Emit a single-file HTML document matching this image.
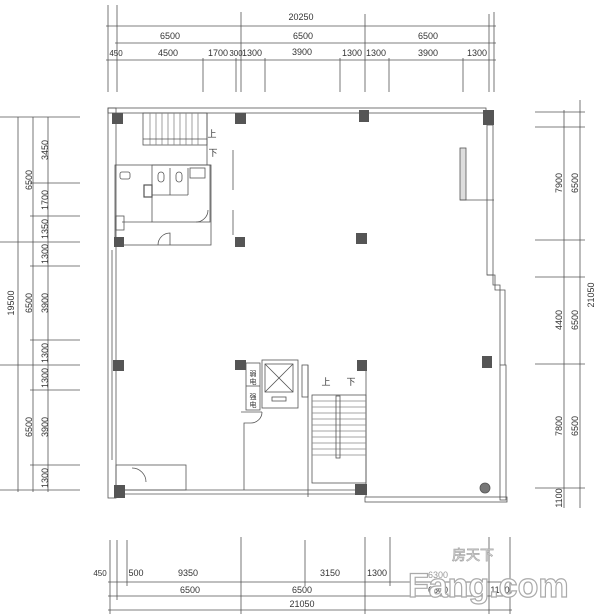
<!DOCTYPE html>
<html><head><meta charset="utf-8"><style>
html,body{margin:0;padding:0;background:#fff;}
svg{display:block;}
text{font-family:"Liberation Sans","Noto Sans CJK SC",sans-serif;fill:#333;}
</style></head><body>
<svg width="600" height="614" viewBox="0 0 600 614" xmlns="http://www.w3.org/2000/svg">
<g stroke="#555" stroke-width="0.8" fill="none">
<line x1="108" y1="5" x2="108" y2="92"/><line x1="117" y1="5" x2="117" y2="92"/>
<line x1="241" y1="12" x2="241" y2="92"/><line x1="365" y1="14" x2="365" y2="92"/>
<line x1="489" y1="14" x2="489" y2="92"/><line x1="494" y1="12" x2="494" y2="92"/>
<line x1="203" y1="58" x2="203" y2="92"/><line x1="236" y1="58" x2="236" y2="92"/>
<line x1="265" y1="58" x2="265" y2="92"/><line x1="340" y1="58" x2="340" y2="92"/>
<line x1="389" y1="58" x2="389" y2="92"/><line x1="463" y1="58" x2="463" y2="92"/>
<line x1="106" y1="26" x2="496" y2="26"/>
<line x1="115" y1="43" x2="496" y2="43"/>
<line x1="106" y1="60" x2="496" y2="60"/>
<line x1="18" y1="117" x2="18" y2="492"/><line x1="33" y1="117" x2="33" y2="492"/><line x1="48" y1="117" x2="48" y2="492"/>
<line x1="0" y1="117" x2="80" y2="117"/><line x1="30" y1="183" x2="80" y2="183"/>
<line x1="30" y1="216" x2="80" y2="216"/><line x1="0" y1="242" x2="80" y2="242"/>
<line x1="30" y1="266" x2="80" y2="266"/><line x1="30" y1="340" x2="80" y2="340"/>
<line x1="0" y1="365" x2="80" y2="365"/><line x1="30" y1="390" x2="80" y2="390"/>
<line x1="30" y1="465" x2="80" y2="465"/><line x1="0" y1="490" x2="80" y2="490"/>
<line x1="564" y1="110" x2="564" y2="508"/><line x1="580" y1="100" x2="580" y2="508"/>
<line x1="535" y1="112" x2="585" y2="112"/><line x1="535" y1="127" x2="585" y2="127"/>
<line x1="535" y1="240" x2="585" y2="240"/><line x1="535" y1="277" x2="585" y2="277"/>
<line x1="535" y1="364" x2="585" y2="364"/><line x1="535" y1="488" x2="585" y2="488"/>
<line x1="110" y1="540" x2="110" y2="614"/><line x1="117" y1="540" x2="117" y2="600"/>
<line x1="127" y1="540" x2="127" y2="586"/><line x1="241" y1="537" x2="241" y2="614"/>
<line x1="305" y1="540" x2="305" y2="586"/><line x1="365" y1="537" x2="365" y2="614"/>
<line x1="390" y1="537" x2="390" y2="586"/><line x1="489" y1="537" x2="489" y2="614"/>
<line x1="510" y1="537" x2="510" y2="614"/>
<line x1="108" y1="582" x2="512" y2="582"/><line x1="108" y1="596" x2="512" y2="596"/>
<line x1="108" y1="610" x2="512" y2="610"/>
</g>
<g font-size="9" text-anchor="middle">
<text x="301" y="20">20250</text>
<text x="170" y="39">6500</text><text x="303" y="39">6500</text><text x="428" y="39">6500</text>
<text x="116" y="56" font-size="8">450</text><text x="168" y="56">4500</text><text x="218" y="56">1700</text>
<text x="236" y="56" font-size="8">300</text><text x="252" y="56">1300</text><text x="302" y="55">3900</text>
<text x="352" y="56">1300</text><text x="376" y="56">1300</text><text x="428" y="56">3900</text><text x="477" y="56">1300</text>
<text x="100" y="576" font-size="8">450</text><text x="136" y="576">500</text><text x="188" y="576">9350</text>
<text x="330" y="576">3150</text><text x="377" y="576">1300</text><text x="438" y="578" fill="#999" style="fill:#999">6300</text>
<text x="190" y="593">6500</text><text x="302" y="593">6500</text><text x="438" y="593">6500</text><text x="500" y="593">1100</text>
<text x="302" y="607">21050</text>
</g>
<g font-size="9" text-anchor="middle">
<text transform="translate(48,150) rotate(-90)">3450</text>
<text transform="translate(48,200) rotate(-90)">1700</text>
<text transform="translate(48,229) rotate(-90)">1350</text>
<text transform="translate(48,254) rotate(-90)">1300</text>
<text transform="translate(48,303) rotate(-90)">3900</text>
<text transform="translate(48,353) rotate(-90)">1300</text>
<text transform="translate(48,378) rotate(-90)">1300</text>
<text transform="translate(48,427) rotate(-90)">3900</text>
<text transform="translate(48,478) rotate(-90)">1300</text>
<text transform="translate(32,180) rotate(-90)">6500</text>
<text transform="translate(32,303) rotate(-90)">6500</text>
<text transform="translate(32,427) rotate(-90)">6500</text>
<text transform="translate(14,303) rotate(-90)">19500</text>
<text transform="translate(562,183) rotate(-90)">7900</text>
<text transform="translate(578,183) rotate(-90)">6500</text>
<text transform="translate(562,320) rotate(-90)">4400</text>
<text transform="translate(578,320) rotate(-90)">6500</text>
<text transform="translate(562,426) rotate(-90)">7800</text>
<text transform="translate(578,426) rotate(-90)">6500</text>
<text transform="translate(562,498) rotate(-90)">1100</text>
<text transform="translate(594,295) rotate(-90)">21050</text>
</g>
<g stroke="#555" stroke-width="0.8" fill="none">
<rect x="108" y="108" width="378" height="5"/>
<rect x="108" y="108" width="8" height="390"/>
<line x1="112" y1="250" x2="112" y2="460"/>
<rect x="487" y="125" width="6" height="150"/>
<rect x="460" y="148" width="6" height="52" fill="#ddd"/>
<line x1="460" y1="200" x2="494" y2="200"/>
<polyline points="487,275 495,275 495,290 505,290 505,365"/>
<polyline points="493,275 493,285 500,285 500,365"/>
<rect x="500" y="365" width="6" height="135"/>
<rect x="365" y="497" width="142" height="5"/>
<line x1="116" y1="490" x2="365" y2="490"/><line x1="116" y1="494" x2="365" y2="494"/>
<circle cx="485" cy="488" r="5" fill="#777"/>
<rect x="143" y="113" width="64" height="32"/>
<g stroke="#888"><line x1="150" y1="113" x2="150" y2="145"/><line x1="156" y1="113" x2="156" y2="145"/><line x1="162" y1="113" x2="162" y2="145"/><line x1="168" y1="113" x2="168" y2="145"/><line x1="174" y1="113" x2="174" y2="145"/><line x1="180" y1="113" x2="180" y2="145"/><line x1="186" y1="113" x2="186" y2="145"/><line x1="192" y1="113" x2="192" y2="145"/><line x1="198" y1="113" x2="198" y2="145"/></g>
<line x1="143" y1="139" x2="207" y2="139"/>
<line x1="207" y1="113" x2="207" y2="165"/>
<rect x="115" y="165" width="96" height="80"/>
<rect x="152" y="165" width="58" height="57"/>
<line x1="152" y1="222" x2="122" y2="222"/>
<line x1="170" y1="168" x2="170" y2="195"/><line x1="188" y1="168" x2="188" y2="195"/>
<line x1="152" y1="195" x2="188" y2="195"/>
<rect x="144" y="185" width="8" height="12" stroke-width="1.2"/>
<rect x="176" y="172" width="6" height="10" rx="3"/><rect x="158" y="172" width="6" height="10" rx="3"/>
<rect x="120" y="172" width="10" height="7" rx="2"/><rect x="190" y="168" width="15" height="10"/>
<rect x="116" y="216" width="8" height="14"/>
<path d="M158 245 A12 12 0 0 1 170 233 L170 245"/>
<path d="M196 222 A12 12 0 0 0 208 210"/>
<line x1="233" y1="150" x2="233" y2="190"/>
<line x1="233" y1="210" x2="233" y2="235"/>
<rect x="246" y="363" width="14" height="47"/><line x1="246" y1="386" x2="260" y2="386"/>
<rect x="262" y="360" width="36" height="48"/>
<rect x="265" y="364" width="28" height="28"/>
<line x1="265" y1="364" x2="293" y2="392"/><line x1="293" y1="364" x2="265" y2="392"/>
<rect x="272" y="397" width="14" height="4"/>
<rect x="302" y="365" width="6" height="32"/>
<path d="M262 412 A11 11 0 0 1 251 423 L244 423 L244 490"/>
<line x1="241" y1="412" x2="262" y2="412"/>
<rect x="312" y="395" width="54" height="88"/>
<line x1="308" y1="365" x2="308" y2="497"/>
<line x1="366" y1="370" x2="366" y2="497"/>
<g stroke="#888">
<line x1="312" y1="401" x2="366" y2="401"/><line x1="312" y1="407" x2="366" y2="407"/><line x1="312" y1="413" x2="366" y2="413"/><line x1="312" y1="419" x2="366" y2="419"/><line x1="312" y1="425" x2="366" y2="425"/><line x1="312" y1="431" x2="366" y2="431"/><line x1="312" y1="437" x2="366" y2="437"/><line x1="312" y1="443" x2="366" y2="443"/><line x1="312" y1="449" x2="366" y2="449"/><line x1="312" y1="455" x2="366" y2="455"/>
</g>
<rect x="336" y="396" width="4" height="62"/>
<rect x="116" y="465" width="70" height="25"/>
<path d="M132 468 A14 14 0 0 1 146 482"/>
</g>
<g fill="#555">
<rect x="112" y="113" width="11" height="11"/><rect x="235" y="113" width="11" height="11"/>
<rect x="359" y="110" width="10" height="12"/><rect x="483" y="110" width="11" height="15"/>
<rect x="114" y="237" width="10" height="10"/><rect x="235" y="237" width="10" height="10"/>
<rect x="356" y="233" width="11" height="11"/>
<rect x="113" y="360" width="11" height="11"/><rect x="235" y="360" width="11" height="10"/>
<rect x="357" y="360" width="10" height="11"/><rect x="482" y="356" width="10" height="12"/>
<rect x="114" y="485" width="11" height="13"/><rect x="355" y="484" width="12" height="11"/>
</g>
<g font-size="9" text-anchor="middle">
<text x="212" y="137">上</text><text x="213" y="156">下</text>
<text x="326" y="385">上</text><text x="351" y="385">下</text>
<text x="253" y="376" font-size="7">弱</text><text x="253" y="384" font-size="7">电</text>
<text x="253" y="399" font-size="7">强</text><text x="253" y="407" font-size="7">电</text>
</g>
<text x="408" y="597" font-size="34" font-weight="bold" stroke="#aaa" stroke-width="1.2" style="fill:#fff">Fang.com</text>
<text x="452" y="560" font-size="14" stroke="#aaa" stroke-width="0.8" style="fill:#fff">房天下</text>
</svg>
</body></html>
